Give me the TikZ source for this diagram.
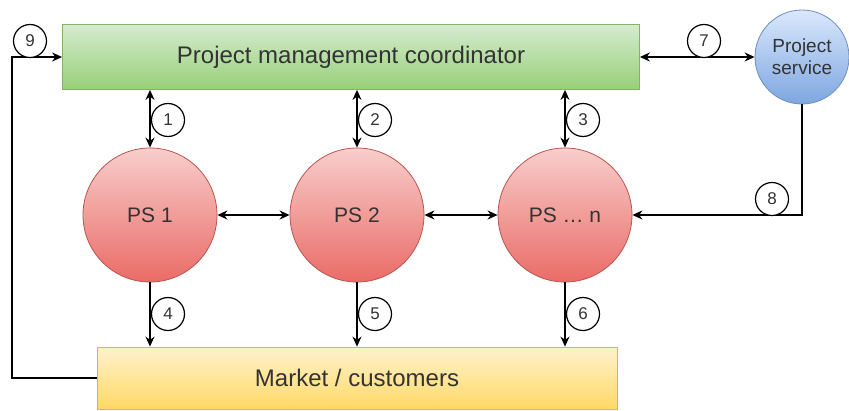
\documentclass[tikz,border=0pt]{standalone}
\usepackage{fontspec}
\setmainfont{Liberation Sans}
\usetikzlibrary{arrows.meta}
\definecolor{txtgray}{HTML}{333333}
\definecolor{greentop}{HTML}{D5EBD0}
\definecolor{greenbot}{HTML}{97D077}
\definecolor{greenline}{HTML}{82B366}
\definecolor{redtop}{HTML}{F8CECC}
\definecolor{redbot}{HTML}{EA6B66}
\definecolor{redline}{HTML}{B85450}
\definecolor{bluetop}{HTML}{DAE8FC}
\definecolor{bluebot}{HTML}{7EA6E0}
\definecolor{blueline}{HTML}{6C8EBF}
\definecolor{yellowtop}{HTML}{FFF2CC}
\definecolor{yellowbot}{HTML}{FFD966}
\definecolor{yellowline}{HTML}{D6B656}
\tikzset{
  arr/.style={line width=1.4pt, -{Stealth[length=10pt,width=9pt]}},
  darr/.style={line width=1.4pt, {Stealth[length=10pt,width=9pt]}-{Stealth[length=10pt,width=9pt]}},
  psnode/.style={draw=redline, line width=0.8pt, circle, minimum size=134pt, inner sep=0pt,
    top color=redtop, bottom color=redbot, text=txtgray, font=\fontsize{21}{25}\selectfont},
  numlabel/.style={draw, line width=1.2pt, circle, minimum size=33pt, inner sep=0pt, fill=white,
    text=txtgray, font=\fontsize{17}{20}\selectfont}
}
\begin{document}
\begin{tikzpicture}[x=1pt, y=-1pt]
  \useasboundingbox (0,0) rectangle (849,410);

  % boxes
  \node [draw=greenline, line width=0.8pt, minimum width=577pt, minimum height=65pt,
    top color=greentop, bottom color=greenbot, text=txtgray,
    font=\fontsize{24}{28}\selectfont] (pmc) at (351,57) {Project management coordinator};
  \node [draw=yellowline, line width=0.8pt, minimum width=520pt, minimum height=62pt,
    top color=yellowtop, bottom color=yellowbot, text=txtgray,
    font=\fontsize{24}{28}\selectfont] (mkt) at (357,378) {Market / customers};
  \node [draw=blueline, line width=0.8pt, circle, minimum size=94pt, inner sep=0pt,
    top color=bluetop, bottom color=bluebot, text=txtgray, align=center,
    font=\fontsize{19}{22}\selectfont] (ps) at (802,57) {Project\\service};

  %project services
  \node [psnode] (ps1) at (150,215) {PS 1};
  \node [psnode] (ps2) at (357,215) {PS 2};
  \node [psnode] (psn) at (565,215) {PS \dots\ n};

  \draw [darr] (ps1.north) -- (ps1.north |- pmc.south);
  \draw [darr] (ps2.north) -- (ps2.north |- pmc.south);
  \draw [darr] (psn.north) -- (psn.north |- pmc.south);
  \draw [arr] (ps1.south) -- (ps1.south |- mkt.north);
  \draw [arr] (ps2.south) -- (ps2.south |- mkt.north);
  \draw [arr] (psn.south) -- (psn.south |- mkt.north);
  \draw [darr] (ps1) -- (ps2);
  \draw [darr] (ps2) -- (psn);
  \draw [darr] (pmc.east) -- (ps.west);
  \draw [arr] (ps.south) |- (psn.east);

  \coordinate (c9) at (12,0);
  \draw [arr] (mkt.west) -- (mkt.west -| c9) |- (pmc.west);

  % step numbers
  \node [numlabel] (n1) at (168,120) {1};
  \node [numlabel] (n2) at (375,120) {2};
  \node [numlabel] (n3) at (583,120) {3};
  \node [numlabel] (n4) at (168,314) {4};
  \node [numlabel] (n5) at (375,314) {5};
  \node [numlabel] (n6) at (583,314) {6};
  \node [numlabel] (n7) at (704,41) {7};
  \node [numlabel] (n8) at (772,199) {8};
  \node [numlabel] (n9) at (30,41) {9};
\end{tikzpicture}
\end{document}
